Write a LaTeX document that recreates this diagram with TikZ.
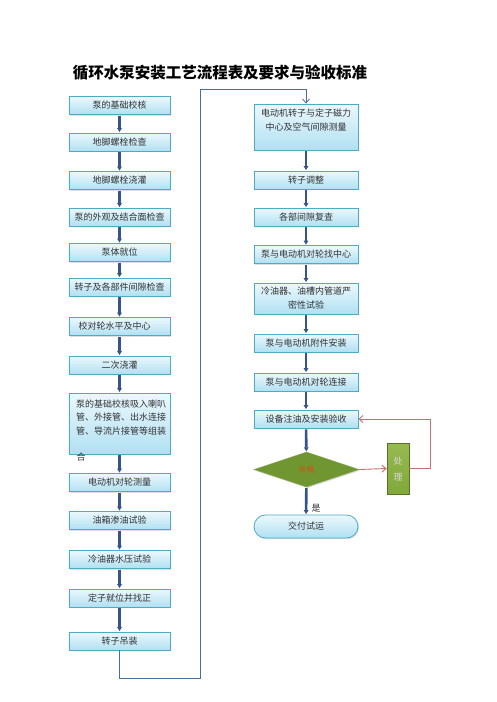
\documentclass[tikz,border=0pt]{standalone}
\usepackage{fontspec}
\setmainfont{Noto Sans CJK SC}
\usetikzlibrary{arrows.meta,shapes.geometric,shadows}
\definecolor{bxborder}{RGB}{75,172,198}
\definecolor{bxtop}{RGB}{236,248,253}
\definecolor{bxbot}{RGB}{176,224,242}
\definecolor{barrowc}{RGB}{54,84,140}
\definecolor{loopc}{RGB}{70,110,160}
\definecolor{redc}{RGB}{196,112,112}
\definecolor{dfill}{RGB}{112,150,50}
\definecolor{dtext}{RGB}{205,85,20}
\definecolor{ptop}{RGB}{150,186,80}
\definecolor{pbot}{RGB}{128,168,58}
\definecolor{pborder}{RGB}{85,115,35}
\definecolor{txtc}{RGB}{50,50,50}
\begin{document}
\begin{tikzpicture}[x=1pt,y=-1pt,
  box/.style={draw=bxborder, line width=0.8pt, top color=bxtop, bottom color=bxbot,
    minimum height=18pt, inner sep=1pt, text=txtc, font=\fontsize{9}{14}\selectfont,
    align=center, drop shadow={shadow xshift=1pt, shadow yshift=-1.2pt, opacity=0.25}},
  lbox/.style={box, minimum width=101pt},
  rbox/.style={box, minimum width=104pt},
  barrow/.style={draw=barrowc, line width=2.6pt, shorten <=1pt, shorten >=0.5pt,
    -{Triangle[width=4.5pt,length=4pt]}},
  loopline/.style={draw=loopc, line width=0.8pt},
  redline/.style={draw=redc, line width=0.9pt},
  plain/.style={text=txtc, font=\fontsize{9}{13.5}\selectfont, inner sep=0pt}
]
\useasboundingbox[fill=white] (0,0) rectangle (496,702);

\node[font=\bfseries\fontsize{15.5}{17}\selectfont, text=black, inner sep=0pt] (title) at (220,73) {循环水泵安装工艺流程表及要求与验收标准};

% left column
\node[lbox] (L1) at (119.5,105.5) {泵的基础校核};
\node[lbox] (L2) at (119.5,142) {地脚螺栓检查};
\node[lbox] (L3) at (119.5,180.5) {地脚螺栓浇灌};
\node[lbox] (L4) at (119.5,217) {泵的外观及结合面检查};
\node[lbox] (L5) at (119.5,252.5) {泵体就位};
\node[lbox] (L6) at (119.5,287) {转子及各部件间隙检查};
\node[lbox] (L7) at (119.5,326.5) {\hspace*{-10pt}校对轮水平及中心};
\node[lbox] (L8) at (119.5,365) {二次浇灌};
\node[lbox, minimum height=61pt] (L9) at (119.5,423.5) {};
\node[plain, anchor=north west, align=left] (L9t) at (76,399.5) {泵的基础校核吸入喇叭\\管、外接管、出水连接\\管、导流片接管等组装};
\node[plain] (L9h) at (81,457) {合};
\node[lbox] (L10) at (119.5,482.5) {电动机对轮测量};
\node[lbox] (L11) at (119.5,520.5) {油箱渗油试验};
\node[lbox] (L12) at (119.5,559.5) {冷油器水压试验};
\node[lbox] (L13) at (119.5,598) {定子就位并找正};
\node[lbox] (L14) at (119.5,641) {转子吊装};

% right column
\node[rbox, minimum height=46pt] (R1) at (306,127) {};
\node[plain, align=center] (R1t) at (306,120) {电动机转子与定子磁力\\中心及空气间隙测量};
\node[rbox] (R2) at (306,180) {转子调整};
\node[rbox] (R3) at (306,217) {各部间隙复查};
\node[rbox] (R4) at (306,254.5) {泵与电动机对轮找中心};
\node[rbox, minimum height=31pt] (R5) at (306,298.5) {冷油器、油槽内管道严\\密性试验};
\node[rbox] (R6) at (306,343) {泵与电动机附件安装};
\node[rbox] (R7) at (306,382) {泵与电动机对轮连接};
\node[rbox] (R8) at (306,419) {设备注油及安装验收};
\node[diamond, draw=dfill!85!white, fill=dfill, minimum width=105pt, minimum height=35pt,
  inner sep=0pt, text=dtext, font=\fontsize{8}{9}\selectfont,
  drop shadow={shadow xshift=1pt, shadow yshift=-1.2pt, opacity=0.25}] (D) at (306.5,469.5) {合格};
\node[draw=pborder, line width=0.8pt, top color=ptop, bottom color=pbot,
  minimum width=22pt, minimum height=51pt, inner sep=0pt, align=center,
  text=white!85!black, font=\fontsize{9}{15}\selectfont,
  drop shadow={shadow xshift=1pt, shadow yshift=-1.2pt, opacity=0.25}] (P) at (398,468.5) {处\\[1pt]理};
\node[rbox, minimum height=23pt, rounded corners=11.5pt] (R9) at (306,526.5) {交付试运};
\node[plain] (yes) at (316,508) {是};

% left arrows
\foreach \a/\b in {L1/L2,L2/L3,L3/L4,L4/L5,L5/L6,L6/L7,L7/L8,L8/L9,L9/L10,L10/L11,L11/L12,L12/L13,L13/L14}
  \draw[barrow] (\a) -- (\b);
% right arrows
\foreach \a/\b in {R1/R2,R2/R3,R3/R4,R4/R5,R5/R6,R6/R7,R7/R8,R8/D,D/R9}
  \draw[barrow] (\a) -- (\b);

% loop connector
\coordinate (c1) at (119.5,678);
\coordinate (c2) at (200,678);
\coordinate (c3) at (200,89);
\coordinate (c4) at (306,89);
\draw[loopline, -{Straight Barb[length=4pt,width=7pt]}] (L14.south) -- (c1) -- (c2) -- (c3) -- (c4) -- (R1.north);

% feedback
\draw[redline, -{Straight Barb[length=4pt,width=7pt]}] (D.east) -- (P.west);
\coordinate (f1) at (430,468.5);
\coordinate (f2) at (430,419);
\draw[redline, -{Straight Barb[length=4pt,width=7pt]}] (P.east) -- (f1) -- (f2) -- (R8.east);
\end{tikzpicture}
\end{document}
